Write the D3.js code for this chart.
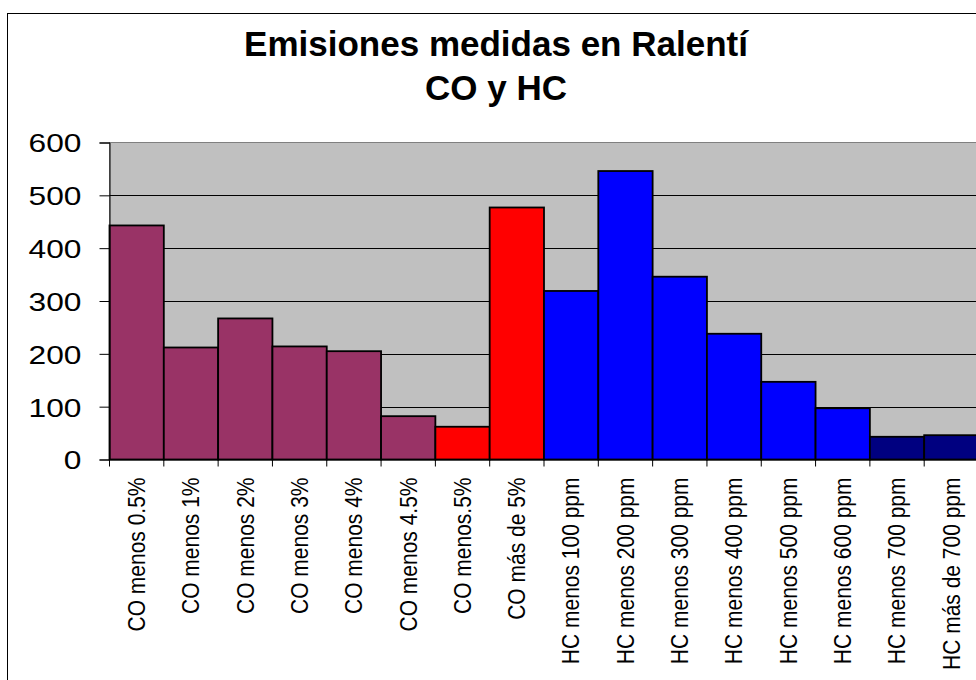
<!DOCTYPE html>
<html>
<head>
<meta charset="utf-8">
<script src="https://cdn.jsdelivr.net/npm/d3@7"></script>
<style>
  body { margin: 0; background: #fff; }
  text { font-family: Arial, "Liberation Sans", sans-serif; fill: #000; }
</style>
</head>
<body>
<script>
// datos
var categorias = ['CO menos 0.5%', 'CO menos 1%', 'CO menos 2%', 'CO menos 3%', 'CO menos 4%',
    'CO menos 4.5%', 'CO menos.5%', 'CO más de 5%', 'HC menos 100 ppm', 'HC menos 200 ppm',
    'HC menos 300 ppm', 'HC menos 400 ppm', 'HC menos 500 ppm', 'HC menos 600 ppm',
    'HC menos 700 ppm', 'HC más de 700 ppm'];
var valores = [443, 212, 267, 214, 205, 82, 62, 477, 319, 546, 346, 238, 147, 97, 43, 46];
var grupos = ['CO', 'CO', 'CO', 'CO', 'CO', 'CO', 'CO alto', 'CO alto', 'HC', 'HC', 'HC',
    'HC', 'HC', 'HC', 'HC alto', 'HC alto'];
var ticksY = [0, 100, 200, 300, 400, 500, 600];
var titulo = ['Emisiones medidas en Ralentí', 'CO y HC'];

var width = 976;
var height = 680;

var svg = d3.select('body')
    .append('svg')
    .attr('width', width)
    .attr('height', height);

// borde del area del grafico (se sale por la derecha y abajo)
svg.append('rect')
    .attr('x', 7.5)
    .attr('y', 13.5)
    .attr('width', 990)
    .attr('height', 700)
    .attr('fill', '#fff')
    .attr('stroke', '#000')
    .attr('stroke-width', 1);

var x = d3.scaleBand()
    .domain(categorias)
    .range([109.5, 978.5])
    .padding(0);

var y = d3.scaleLinear()
    .domain([0, 600])
    .range([459.5, 142.5]);

var color = d3.scaleOrdinal()
    .domain(['CO', 'CO alto', 'HC', 'HC alto'])
    .range(['#993366', '#ff0000', '#0000ff', '#000080']);

// fondo gris del area de trazado
svg.append('rect')
    .attr('x', x.range()[0])
    .attr('y', y(600))
    .attr('width', x.range()[1] - x.range()[0])
    .attr('height', y(0) - y(600))
    .attr('fill', '#c0c0c0')
    .attr('stroke', '#808080')
    .attr('stroke-width', 1);

// lineas de division
svg.selectAll('line.grid')
    .data(ticksY.filter(d => d > 0 && d < 600))
    .enter()
    .append('line')
    .attr('class', 'grid')
    .attr('x1', x.range()[0])
    .attr('x2', x.range()[1])
    .attr('y1', d => Math.round(y(d)) + 0.5)
    .attr('y2', d => Math.round(y(d)) + 0.5)
    .attr('stroke', '#000')
    .attr('stroke-width', 1);

// barras
svg.selectAll('rect.bar')
    .data(valores)
    .enter()
    .append('rect')
    .attr('class', 'bar')
    .attr('x', (d, i) => x(categorias[i]))
    .attr('y', d => y(d))
    .attr('width', x.bandwidth())
    .attr('height', d => y(0) - y(d))
    .attr('fill', (d, i) => color(grupos[i]))
    .attr('stroke', '#000')
    .attr('stroke-width', 1.8);

// eje Y
var ejeY = svg.append('g')
    .attr('transform', 'translate(' + x.range()[0] + ',0)')
    .call(d3.axisLeft(y).tickValues(ticksY).tickSize(10).tickPadding(18));
ejeY.select('.domain').attr('stroke', '#000');
ejeY.selectAll('line').attr('stroke', '#000');
// el texto del original esta algo ensanchado
ejeY.selectAll('text')
    .attr('x', 0)
    .attr('transform', 'translate(-28,0) scale(1.22,1)')
    .style('font-size', '26px')
    .attr('dy', '0.36em');

// eje X
var ejeX = svg.append('g')
    .attr('transform', 'translate(0,' + y(0) + ')')
    .call(d3.axisBottom(x).tickSize(0).tickFormat(''));
ejeX.select('.domain').attr('stroke', '#000');

svg.selectAll('line.tickx')
    .data(categorias)
    .enter()
    .append('line')
    .attr('class', 'tickx')
    .attr('x1', d => x(d))
    .attr('x2', d => x(d))
    .attr('y1', y(0))
    .attr('y2', y(0) + 7)
    .attr('stroke', '#000');

svg.selectAll('text.catlabel')
    .data(categorias)
    .enter()
    .append('text')
    .attr('class', 'catlabel')
    .attr('transform', d => 'translate(' + (x(d) + x.bandwidth() / 2) + ',' + (y(0) + 18) + ') rotate(-90) scale(1,1.1)')
    .attr('text-anchor', 'end')
    .attr('dy', '0.36em')
    .style('font-size', '21px')
    .text(d => d);

// titulo
svg.selectAll('text.titulo')
    .data(titulo)
    .enter()
    .append('text')
    .attr('class', 'titulo')
    .attr('x', 496)
    .attr('y', (d, i) => 56 + i * 44)
    .attr('text-anchor', 'middle')
    .style('font-size', '35px')
    .style('font-weight', 'bold')
    .text(d => d);
</script>
</body>
</html>
